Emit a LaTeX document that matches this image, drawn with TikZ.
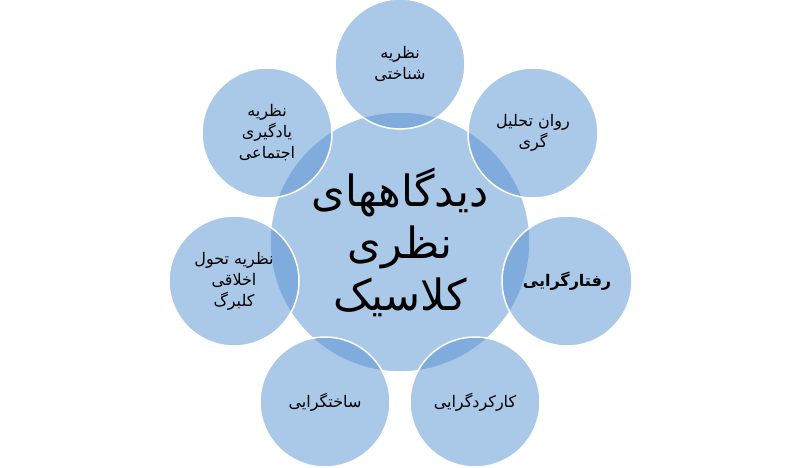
\documentclass[tikz,border=0pt]{standalone}
\usepackage{fontspec}
\newfontfamily\arabicfont[Script=Arabic]{DejaVu Sans}
\TeXXeTstate=1
\definecolor{circfill}{RGB}{85,145,209}
\tikzset{
  sat/.style={circle, minimum size=130pt, inner sep=0pt, fill=circfill, fill opacity=0.5, text opacity=1,
    draw=white, line width=1.5pt, align=center, font=\arabicfont\fontsize{16}{21}\selectfont},
  hub/.style={circle, minimum size=260pt, inner sep=0pt, fill=circfill, fill opacity=0.5, text opacity=1,
    draw=white, line width=1.5pt, align=center, font=\arabicfont\fontsize{43}{52}\selectfont}
}
\begin{document}
\begin{tikzpicture}[x=1pt,y=-1pt]
\useasboundingbox (0,0) rectangle (800,467);
\node[hub] (hub) at (400,242) {\beginR دیدگاههای\endR\\\beginR نظری\endR\\\beginR کلاسیک\endR};
\node[sat] (s1) at (400,64) {\beginR نظریه\endR\\\beginR شناختی\endR};
\node[sat] (s2) at (533,133) {\beginR روان تحلیل\endR\\\beginR گری\endR};
\node[sat] (s3) at (567,281) {\bfseries\beginR رفتارگرایی\endR};
\node[sat] (s4) at (475,402) {\beginR کارکردگرایی\endR};
\node[sat] (s5) at (325,402) {\beginR ساختگرایی\endR};
\node[sat] (s6) at (234,281) {\beginR نظریه تحول\endR\\\beginR اخلاقی\endR\\\beginR کلبرگ\endR};
\node[sat] (s7) at (267,133) {\beginR نظریه\endR\\\beginR یادگیری\endR\\\beginR اجتماعی\endR};
\end{tikzpicture}
\end{document}
